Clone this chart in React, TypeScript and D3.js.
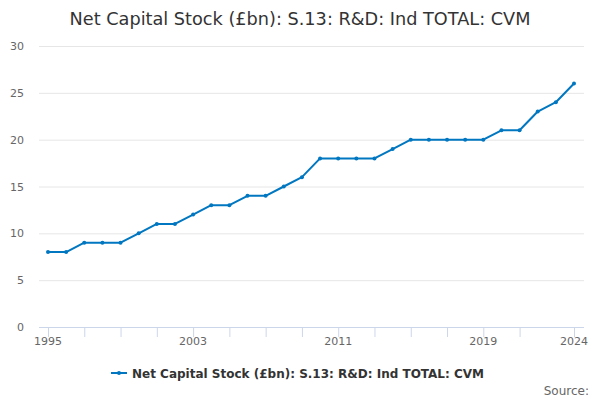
import React from "react";
import * as d3 from "d3";

const years = d3.range(1995, 2025);
const values = [8, 8, 9, 9, 9, 10, 11, 11, 12, 13, 13, 14, 14, 15, 16, 18, 18, 18, 18, 19, 20, 20, 20, 20, 20, 21, 21, 23, 24, 26];
const yTicks = [0, 5, 10, 15, 20, 25, 30];
const xTickYears = [1995, 1997, 1999, 2001, 2003, 2005, 2007, 2009, 2011, 2013, 2015, 2017, 2019, 2021, 2024];
const xLabelYears = [1995, 2003, 2011, 2019, 2024];
const seriesName = "Net Capital Stock (£bn): S.13: R&D: Ind TOTAL: CVM";

const width = 600;
const height = 400;
const font = "'DejaVu Sans', sans-serif";
const lineColor = "#0077c0";

const App: React.FC = () => {
  const x = d3.scaleLinear().domain([1995, 2024]).range([48, 574]);
  const y = d3.scaleLinear().domain([0, 30]).range([327, 46]);
  const line = d3.line<number>().x((_, i) => x(years[i])).y(d => y(d));

  return (
    <svg width={width} height={height} style={{ position: "absolute", left: 0, top: 0, fontFamily: font }}>
      <rect width={width} height={height} fill="#fff" />
      <text x={300} y={25} textAnchor="middle" fontSize={17.7} fill="#333">{seriesName}</text>
      {yTicks.map(t => (
        <g key={t}>
          {t > 0 && <line x1={39} x2={584} y1={y(t) + 0.5} y2={y(t) + 0.5} stroke="#e6e6e6" />}
          <text x={24} y={y(t) + 4} textAnchor="end" fontSize={11} fill="#666">{t}</text>
        </g>
      ))}
      <line x1={39} x2={584} y1={y(0) + 0.5} y2={y(0) + 0.5} stroke="#ccd6eb" />
      {xTickYears.map(t => (
        <line key={t} x1={x(t) + 0.5} x2={x(t) + 0.5} y1={y(0)} y2={y(0) + 10} stroke="#ccd6eb" />
      ))}
      {xLabelYears.map(t => (
        <text key={t} x={x(t)} y={345} textAnchor="middle" fontSize={11} fill="#666">{t}</text>
      ))}
      <path d={line(values) ?? ""} fill="none" stroke={lineColor} strokeWidth={2} strokeLinejoin="round" />
      {values.map((v, i) => (
        <circle key={i} cx={x(years[i])} cy={y(v)} r={2} fill={lineColor} />
      ))}
      <g transform="translate(111,373)">
        <line x1={0} x2={16} y1={0} y2={0} stroke={lineColor} strokeWidth={2} />
        <circle cx={8} cy={0} r={2} fill={lineColor} />
        <text x={21} y={4.5} fontSize={12} fontWeight="bold" fill="#333">{seriesName}</text>
      </g>
      <text x={589} y={395} textAnchor="end" fontSize={12} fill="#666">Source:</text>
    </svg>
  );
};

export default App;
